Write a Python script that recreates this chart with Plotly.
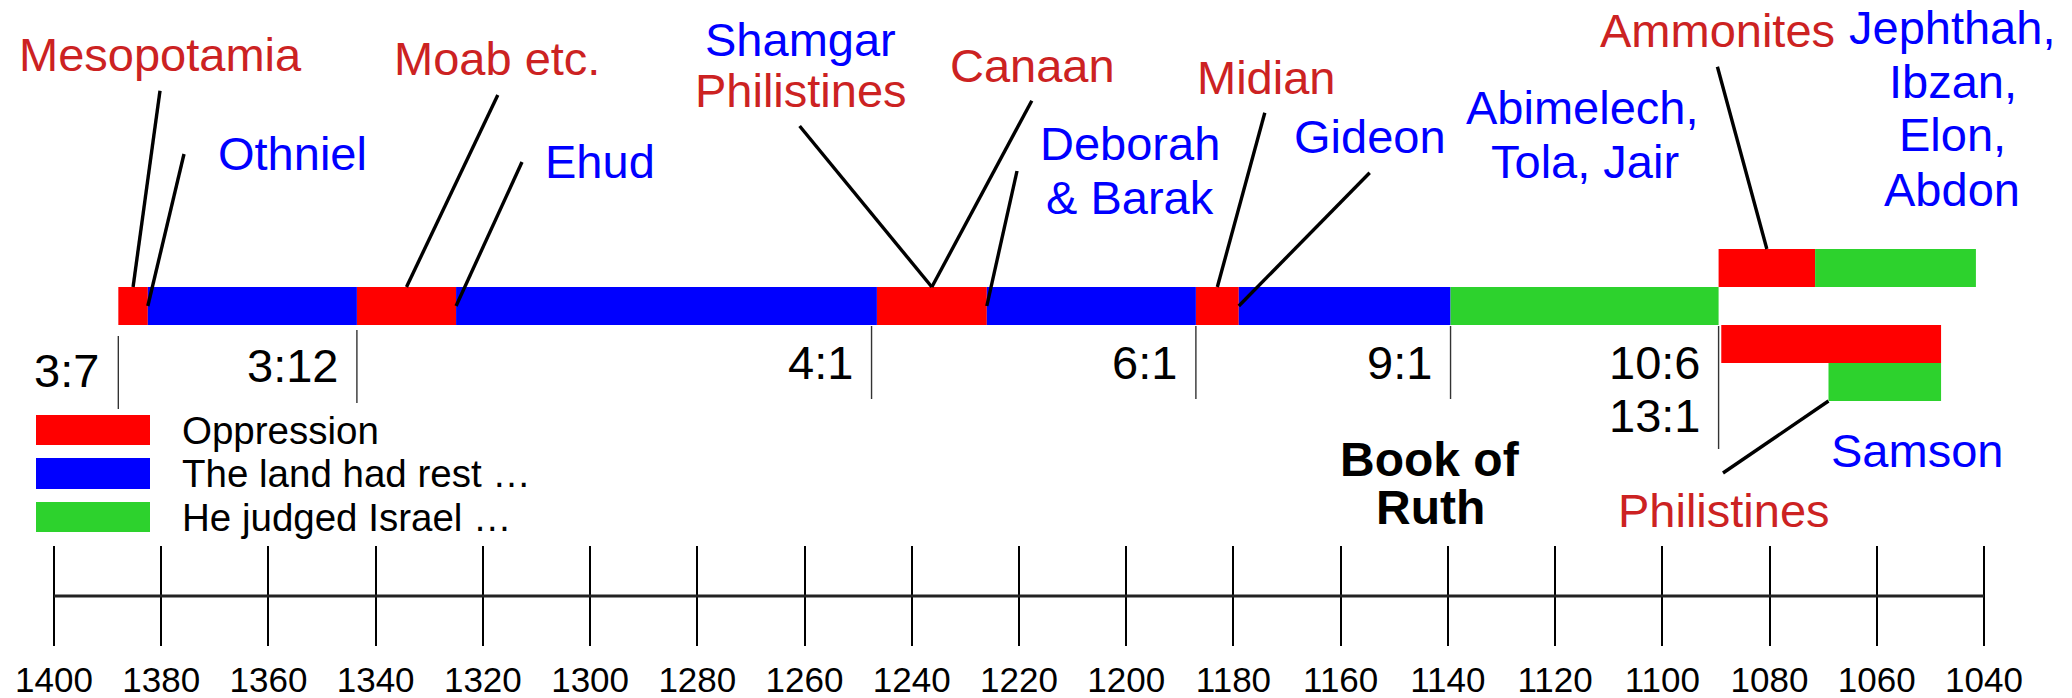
import plotly.graph_objects as go

# ---------------- data ----------------
period_names = ["Mesopotamia", "Othniel", "Moab etc.", "Ehud", "Canaan", "Deborah & Barak",
                "Midian", "Gideon", "Abimelech, Tola, Jair", "Ammonites",
                "Jephthah, Ibzan, Elon, Abdon", "Philistines", "Samson"]
period_kind = ["Oppression", "Rest", "Oppression", "Rest", "Oppression", "Rest",
               "Oppression", "Rest", "Judged", "Oppression", "Judged", "Oppression", "Judged"]
period_start = [1388, 1382.5, 1343.5, 1325, 1246.5, 1226, 1187, 1179, 1139.5, 1089.5, 1071.5, 1089, 1069]
period_end = [1382.5, 1343.5, 1325, 1246.5, 1226, 1187, 1179, 1139.5, 1089.5, 1071.5, 1041.5, 1048, 1048]
period_row = [0, 0, 0, 0, 0, 0, 0, 0, 0, 1, 1, -1, -2]

verse_refs = ["3:7", "3:12", "4:1", "6:1", "9:1", "10:6", "13:1"]
verse_years = [1388, 1343.5, 1247.5, 1187, 1139.5, 1089.5, 1089.5]

axis_years = [1400, 1380, 1360, 1340, 1320, 1300, 1280, 1260, 1240, 1220,
              1200, 1180, 1160, 1140, 1120, 1100, 1080, 1060, 1040]
axis_labels = [str(y) for y in axis_years]

legend_kinds = ["Oppression", "Rest", "Judged"]
legend_labels = ["Oppression", "The land had rest \u2026", "He judged Israel \u2026"]

# ---------------- styles / layout helpers ----------------
W, H = 2072, 698
BAR_COL = {"Oppression": "#FF0000", "Rest": "#0000FF", "Judged": "#2DD22D"}
TXT_RED, TXT_BLUE = "#CC2222", "#0000FF"
FONT = "Liberation Sans, Arial, sans-serif"

X0_PX, PX_PER_YEAR = 54.0, 5.361       # year 1400 sits at x=54 px
ROW0_PX, PX_PER_ROW = 306.0, 38.0       # main row centre


def yr_at(px):
    return 1400 - (px - X0_PX) / PX_PER_YEAR


def row_at(py):
    return (ROW0_PX - py) / PX_PER_ROW


def px2paper_x(px):
    return px / W


def py2paper_y(py):
    return 1 - py / H


fig = go.Figure()

# ---- bars ----
for kind in legend_kinds:
    idx = [i for i, k in enumerate(period_kind) if k == kind]
    fig.add_trace(go.Bar(
        orientation="h",
        y=[period_row[i] for i in idx],
        base=[period_end[i] for i in idx],
        x=[period_start[i] - period_end[i] for i in idx],
        width=1.0,
        marker=dict(color=BAR_COL[kind], line=dict(width=0)),
        name=kind, showlegend=False, hoverinfo="skip",
        xaxis="x", yaxis="y",
    ))

# ---- leader lines: bar anchor derived from data, label end is layout ----
def seg(name):
    i = period_names.index(name)
    return period_start[i], period_end[i], period_row[i]


def mid_top(name):
    s, e, r = seg(name)
    return (s + e) / 2, r + 0.5


def start_mid(name):
    s, e, r = seg(name)
    return s, r


def start_bottom(name):
    s, e, r = seg(name)
    return s, r - 0.5


leaders = [
    (mid_top("Mesopotamia"), (160, 90.7)),
    (start_mid("Othniel"), (184, 154)),
    (mid_top("Moab etc."), (497.8, 95)),
    (start_mid("Ehud"), (522, 162)),
    (mid_top("Canaan"), (799.6, 126)),
    (mid_top("Canaan"), (1031.8, 100.7)),
    (start_mid("Deborah & Barak"), (1017, 171)),
    (mid_top("Midian"), (1264.8, 112.7)),
    (start_mid("Gideon"), (1369.7, 172.7)),
    (mid_top("Ammonites"), (1717.4, 66.7)),
    (start_bottom("Samson"), (1723, 473)),
]
lx, ly = [], []
for (ax, ay), (tx, ty) in leaders:
    lx += [ax, yr_at(tx), None]
    ly += [ay, row_at(ty), None]
fig.add_trace(go.Scatter(x=lx, y=ly, mode="lines", line=dict(color="black", width=3.4),
                         showlegend=False, hoverinfo="skip", xaxis="x", yaxis="y"))

# ---- verse marker lines ----
verse_line_px = [(336, 409), (330, 403), (326, 399), (326, 399), (326, 399), (326, 449), None]
vx, vy = [], []
for yr, span in zip(verse_years, verse_line_px):
    if span is None:
        continue
    vx += [yr, yr, None]
    vy += [row_at(span[0]), row_at(span[1]), None]
fig.add_trace(go.Scatter(x=vx, y=vy, mode="lines", line=dict(color="#333333", width=1.4),
                         showlegend=False, hoverinfo="skip", xaxis="x", yaxis="y"))

verse_label_py = [370, 366, 362, 362, 362, 362, 415]
annotations = []
for ref, yr, py in zip(verse_refs, verse_years, verse_label_py):
    annotations.append(dict(text=ref, x=yr, xref="x", xanchor="right", xshift=-17,
                            y=py2paper_y(py), yref="paper", yanchor="middle",
                            showarrow=False, font=dict(family=FONT, size=47, color="black")))

# ---- period labels ----
label_lines = [
    ("Mesopotamia", TXT_RED, 160.5, 55),
    ("Othniel", TXT_BLUE, 292, 153),
    ("Moab etc.", TXT_RED, 497, 58),
    ("Ehud", TXT_BLUE, 600, 161),
    ("Shamgar", TXT_BLUE, 800, 39),
    ("Philistines", TXT_RED, 800.5, 91),
    ("Canaan", TXT_RED, 1032, 65),
    ("Deborah", TXT_BLUE, 1129.5, 143),
    ("& Barak", TXT_BLUE, 1130, 197),
    ("Midian", TXT_RED, 1265.6, 77),
    ("Gideon", TXT_BLUE, 1370, 136),
    ("Abimelech,", TXT_BLUE, 1582.5, 107),
    ("Tola, Jair", TXT_BLUE, 1584.5, 161),
    ("Ammonites", TXT_RED, 1717, 30),
    ("Jephthah,", TXT_BLUE, 1952, 27),
    ("Ibzan,", TXT_BLUE, 1953, 81),
    ("Elon,", TXT_BLUE, 1952, 135),
    ("Abdon", TXT_BLUE, 1952, 189),
    ("Samson", TXT_BLUE, 1917, 450),
    ("Philistines", TXT_RED, 1724, 510),
]
for text, col, px, py in label_lines:
    annotations.append(dict(text=text, x=px2paper_x(px), xref="paper", xanchor="center",
                            y=py2paper_y(py), yref="paper", yanchor="middle",
                            showarrow=False, font=dict(family=FONT, size=47, color=col)))

for text, py in [("Book of", 459), ("Ruth", 507)]:
    annotations.append(dict(text="<b>" + text + "</b>", x=px2paper_x(1430), xref="paper",
                            xanchor="center", y=py2paper_y(py), yref="paper", yanchor="middle",
                            showarrow=False, font=dict(family=FONT, size=48, color="black")))

# ---- legend (custom) ----
shapes = []
legend_py = [(415, 445), (458, 489), (502, 532)]
for kind, lab, (y0, y1) in zip(legend_kinds, legend_labels, legend_py):
    shapes.append(dict(type="rect", xref="paper", yref="paper",
                       x0=px2paper_x(36), x1=px2paper_x(150),
                       y0=py2paper_y(y1), y1=py2paper_y(y0),
                       fillcolor=BAR_COL[kind], line=dict(width=0)))
    annotations.append(dict(text=lab, x=px2paper_x(180), xref="paper", xanchor="left",
                            y=py2paper_y((y0 + y1) / 2), yref="paper", yanchor="middle",
                            showarrow=False, font=dict(family=FONT, size=38.5, color="black")))

# ---- time axis (second subplot) ----
fig.add_trace(go.Scatter(x=[axis_years[0], axis_years[-1]], y=[0, 0], mode="lines",
                         line=dict(color="#222222", width=3), showlegend=False,
                         hoverinfo="skip", xaxis="x2", yaxis="y2"))

x_range = [yr_at(0), yr_at(W)]
fig.update_layout(
    width=W, height=H,
    margin=dict(l=0, r=0, t=0, b=0),
    paper_bgcolor="white", plot_bgcolor="white",
    barmode="overlay",
    showlegend=False,
    xaxis=dict(range=x_range, visible=False, domain=[0, 1]),
    yaxis=dict(range=[row_at(H), row_at(0)], visible=False, domain=[0, 1]),
    xaxis2=dict(range=x_range, anchor="y2", domain=[0, 1],
                tickmode="array", tickvals=axis_years, ticktext=axis_labels,
                showgrid=True, gridcolor="black", gridwidth=2,
                showline=False, zeroline=False, ticks="",
                ticklabelstandoff=10,
                tickfont=dict(family=FONT, size=35, color="black")),
    yaxis2=dict(range=[-1, 1], domain=[py2paper_y(646), py2paper_y(546)], anchor="x2",
                visible=False, showgrid=False, zeroline=False),
    annotations=annotations,
    shapes=shapes,
)

fig.write_html("out.html",
               config={"displayModeBar": False},
               post_script="document.body.style.margin='0px';"
                           "document.body.style.overflow='hidden';")
